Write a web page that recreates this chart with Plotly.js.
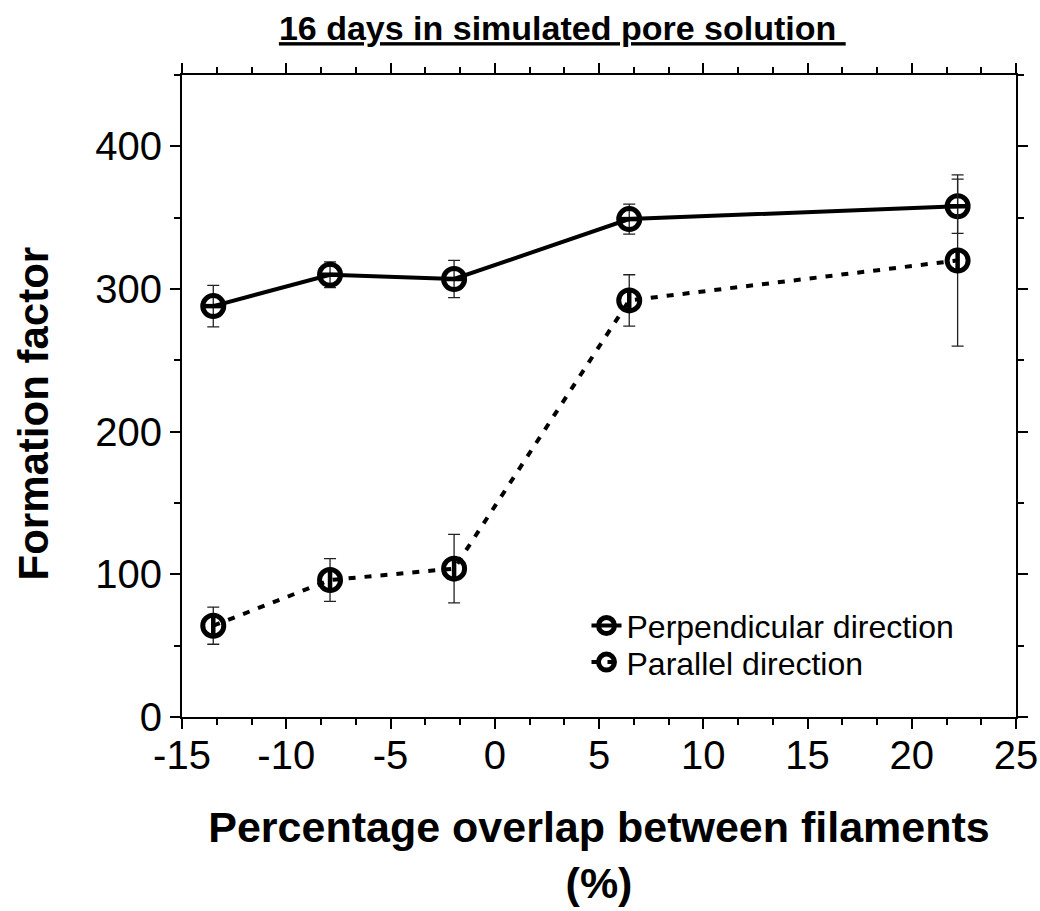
<!DOCTYPE html>
<html>
<head>
<meta charset="utf-8">
<script src="https://cdn.plot.ly/plotly-3.0.1.min.js"></script>
<style>
  html, body { margin: 0; padding: 0; background: #fff; }
  #chart { width: 1040px; height: 911px; }
</style>
</head>
<body>
<div id="chart"></div>
<script>
// Data
const overlapX = [-13.5, -7.9, -1.95, 6.45, 22.2];
const perpY    = [288, 310, 307, 349, 358];
const perpErr  = [14.5, 9, 13, 10.5, 19];
const paraY    = [64, 96, 104, 292, 320];
const paraErr  = [13, 15, 24, 18, 60];
const seriesNames = ['Perpendicular direction', 'Parallel direction'];
const xTickVals = [-15, -10, -5, 0, 5, 10, 15, 20, 25];
const xTickText = ['-15', '-10', '-5', '0', '5', '10', '15', '20', '25'];
const yTickVals = [0, 100, 200, 300, 400];
const yTickText = ['0', '100', '200', '300', '400'];
const chartTitle = '16 days in simulated pore solution ';
const xTitle = 'Percentage overlap between filaments<br>(%)';
const yTitle = 'Formation factor';

const FONT = '"Liberation Sans", Arial, Helvetica, sans-serif';

const errStyle = (arr) => ({
  type: 'data', array: arr, visible: true,
  color: '#222', thickness: 1.3, width: 6
});

const traces = [
  {
    x: overlapX, y: perpY, name: seriesNames[0], legend: 'legend',
    type: 'scatter', mode: 'lines+markers',
    line: { color: '#000', width: 4, dash: 'solid' },
    marker: { symbol: 'circle-open', size: 21, color: '#000', line: { width: 5, color: '#000' } },
    error_y: errStyle(perpErr)
  },
  {
    x: overlapX, y: paraY, name: seriesNames[1], legend: 'legend2',
    type: 'scatter', mode: 'lines+markers',
    line: { color: '#000', width: 4, dash: '7px,9px' },
    marker: { symbol: 'circle-open', size: 21, color: '#000', line: { width: 5, color: '#000' } },
    error_y: errStyle(paraErr)
  },
  {
    x: overlapX, y: perpY, showlegend: false, name: 'perp-bar', hoverinfo: 'skip',
    type: 'scatter', mode: 'markers',
    marker: { symbol: 'line-ew', size: 14, color: '#000', line: { width: 4.5, color: '#000' } }
  },
  {
    x: overlapX, y: paraY, showlegend: false, name: 'para-bar', hoverinfo: 'skip',
    type: 'scatter', mode: 'markers',
    marker: { symbol: 'line-ns', size: 14, color: '#000', line: { width: 4.5, color: '#000' } }
  }
];

const axisCommon = {
  showline: true, linecolor: '#000', linewidth: 2,
  mirror: 'allticks', ticks: 'outside', ticklen: 10, tickwidth: 2, tickcolor: '#000',
  showgrid: false, zeroline: false,
  tickfont: { family: FONT, size: 40, color: '#000' }
};

const legendCommon = {
  xanchor: 'left', yanchor: 'top',
  bgcolor: 'rgba(0,0,0,0)', borderwidth: 0,
  font: { family: FONT, size: 32, color: '#000' }
};

const layout = {
  width: 1040, height: 911,
  margin: { l: 182, r: 24, t: 75, b: 194 },
  paper_bgcolor: '#fff', plot_bgcolor: '#fff',
  font: { family: FONT, color: '#000' },
  title: {
    text: '<b>' + chartTitle + '</b>',
    font: { family: FONT, size: 34, color: '#000', lineposition: 'under' },
    xref: 'paper', x: 0.456, xanchor: 'center',
    yref: 'container', y: 0.969, yanchor: 'middle'
  },
  xaxis: Object.assign({}, axisCommon, {
    range: [-15, 25], tickmode: 'array', tickvals: xTickVals, ticktext: xTickText,
    ticklabelstandoff: -8,
    minor: { dtick: 5/3, tick0: -15, ticks: 'outside', ticklen: 6, tickwidth: 2, tickcolor: '#000', showgrid: false },
    title: { text: '<b>' + xTitle + '</b>', font: { family: FONT, size: 43, color: '#000' }, standoff: 36 }
  }),
  yaxis: Object.assign({}, axisCommon, {
    range: [0, 450], tickmode: 'array', tickvals: yTickVals, ticktext: yTickText,
    minor: { dtick: 50, tick0: 0, ticks: 'outside', ticklen: 6, tickwidth: 2, tickcolor: '#000', showgrid: false },
    title: { text: '' }
  }),
  annotations: [{
    text: '<b>' + yTitle + '</b>', textangle: -90,
    font: { family: FONT, size: 42, color: '#000' },
    xref: 'paper', x: -0.178, xanchor: 'center',
    yref: 'paper', y: 0.472, yanchor: 'middle',
    showarrow: false
  }],
  legend: Object.assign({}, legendCommon, { x: 0.485, y: 0.185 }),
  legend2: Object.assign({}, legendCommon, { x: 0.485, y: 0.128 }),
  showlegend: true
};

Plotly.newPlot('chart', traces, layout, { staticPlot: true, displayModeBar: false });
</script>
</body>
</html>
